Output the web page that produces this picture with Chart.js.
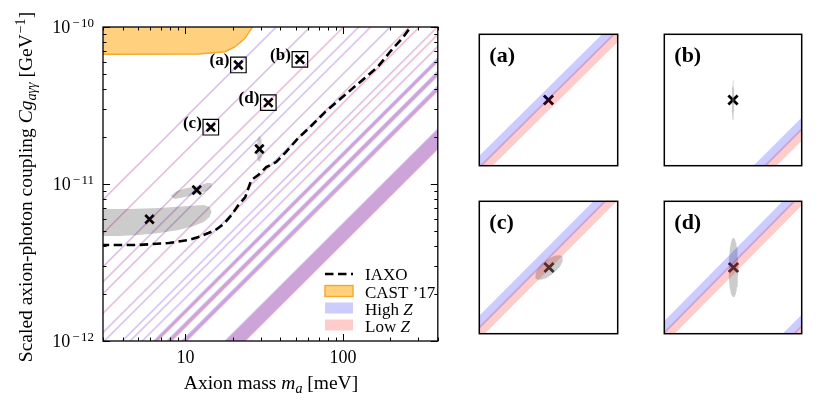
<!DOCTYPE html>
<html>
<head>
<meta charset="utf-8">
<script src="https://cdn.jsdelivr.net/npm/chart.js@4.4.1/dist/chart.umd.min.js"></script>
<style>
html,body{margin:0;padding:0;background:#fff;}
body{width:830px;height:415px;position:relative;overflow:hidden;}
canvas{position:absolute;}
</style>
</head>
<body>
<canvas id="main" width="450" height="415" style="left:0;top:0"></canvas>
<canvas id="pa" width="157" height="150" style="left:470px;top:25px"></canvas>
<canvas id="pb" width="156" height="150" style="left:655px;top:25px"></canvas>
<canvas id="pc" width="157" height="151" style="left:470px;top:192px"></canvas>
<canvas id="pd" width="156" height="151" style="left:655px;top:192px"></canvas>
<script>
// ---------------- data ----------------
const X_MIN = 3, X_MAX = 400, Y_MIN = 1e-12, Y_MAX = 1e-10;
const xMajorTicks = [10, 100];
const xMajorLabels = ['10', '100'];
const xMinorTicks = [3,4,5,6,7,8,9,20,30,40,50,60,70,80,90,200,300,400];
const yMajorTicks = [1e-12, 1e-11, 1e-10];
const yMajorExp = ['12', '11', '10'];
const yMinorTicks = [2e-12,3e-12,4e-12,5e-12,6e-12,7e-12,8e-12,9e-12,2e-11,3e-11,4e-11,5e-11,6e-11,7e-11,8e-11,9e-11];

// model lines  g = 1e-12 * m / m0   (m0 in meV)
const lineM0       = [0.378, 0.62, 1.01, 1.26, 1.50, 2.00, 2.65, 3.06, 3.98, 4.47, 5.33, 6.49, 7.91, 9.85, 20.7];
const lineWidthDex = [0.0095,0.0095,0.0095,0.0095,0.0095,0.0095,0.0095,0.0095,0.0095,0.0095,0.0095,0.031,0.036,0.037,0.1325];
const zSplitDex = 0.0075;   // offset between High Z and Low Z bands

// IAXO sensitivity
const iaxoMass = [2.9, 5.07, 7.85, 10.5, 12.1, 14.0, 15.5, 17.5, 19.6, 21.7, 24.0, 26.2, 29.0, 32.6, 37.7, 43.0, 52.0, 62.8, 77.0, 93.0, 124, 166, 201, 239, 269];
const iaxoG    = [4.09e-12,4.09e-12,4.21e-12,4.40e-12,4.60e-12,4.87e-12,5.09e-12,5.56e-12,6.34e-12,7.35e-12,8.26e-12,1.06e-11,1.14e-11,1.28e-11,1.38e-11,1.58e-11,1.96e-11,2.34e-11,2.87e-11,3.38e-11,4.33e-11,5.56e-11,7.03e-11,8.51e-11,1.0e-10];

// CAST '17 limit
const castMass = [2.5, 12.1, 17.9, 20.7, 23.9, 26.3, 28.2];
const castG    = [6.70e-11, 6.73e-11, 6.96e-11, 7.49e-11, 8.47e-11, 9.81e-11, 1.108e-10];

// benchmark points
const benchMass  = [21.7, 53.3, 14.5, 33.6, 29.5, 11.8, 5.92];
const benchG     = [5.73e-11, 6.22e-11, 2.30e-11, 3.30e-11, 1.67e-11, 9.16e-12, 5.96e-12];
const benchLabel = ['(a)', '(b)', '(c)', '(d)'];

// grey reconstruction regions
const blobBigMass  = [2.5, 4.38, 6.78, 10.5, 13.05, 14.24, 14.66, 14.24, 13.05, 11.28, 9.07, 6.78, 5.07, 3.79, 2.5];
const blobBigG     = [6.93e-12,6.93e-12,7.03e-12,7.24e-12,7.35e-12,7.14e-12,6.63e-12,6.16e-12,5.73e-12,5.40e-12,5.09e-12,4.87e-12,4.73e-12,4.66e-12,4.66e-12];
const blobSmallMass = [8.07, 8.81, 10.19, 12.13, 13.63, 14.66, 14.66, 13.63, 11.79, 9.90, 8.56];
const blobSmallG    = [8.39e-12,9.02e-12,9.43e-12,9.71e-12,1.015e-11,1.015e-11,9.57e-12,9.02e-12,8.64e-12,8.26e-12,8.02e-12];
const ellMainSemiX = 0.017, ellMainSemiY = 0.08;   // ellipse around point 5 (dex)

// zoom panels
const panelHalfX = 0.05, panelHalfY = 0.048;        // half-width of windows (dex)
const panelEllA = [0, 0.0009, 0.0124, 0.0035];
const panelEllB = [0, 0.0145, 0.0052, 0.0215];
const panelEllAng = [0, 0, 40, 0];

// ---------------- helpers ----------------
const SERIF = '"Liberation Serif", "DejaVu Serif", serif';
const BLUE = 'rgba(0,0,255,0.2)', RED = 'rgba(255,0,0,0.2)', GREY = 'rgba(128,128,128,0.4)';
const NONE = 'rgba(0,0,0,0)';
const pts = (xs, ys) => xs.map((v, i) => ({x: v, y: ys[i]}));
function bandPoly(m0lo, m0hi) {
  const a = 1, b = 3000;
  return [{x:a,y:1e-12*a/m0lo},{x:b,y:1e-12*b/m0lo},{x:b,y:1e-12*b/m0hi},{x:a,y:1e-12*a/m0hi}];
}
function ellipsePoly(mc, gc, A, B, angDeg, n) {
  const th = angDeg * Math.PI / 180, out = [];
  for (let k = 0; k <= n; k++) {
    const t = 2 * Math.PI * k / n;
    const lx = A*Math.cos(t)*Math.cos(th) - B*Math.sin(t)*Math.sin(th);
    const ly = A*Math.cos(t)*Math.sin(th) + B*Math.sin(t)*Math.cos(th);
    out.push({x: mc*Math.pow(10, lx), y: gc*Math.pow(10, ly)});
  }
  return out;
}
function bandDatasets(order) {
  const ds = [];
  lineM0.forEach((m0, i) => {
    const w = lineWidthDex[i];
    [[-1, BLUE, 'High Z'], [1, RED, 'Low Z']].forEach(([s, col, lab]) => {
      const c = Math.log10(m0) + s * zSplitDex / 2;
      ds.push({label: lab, data: bandPoly(Math.pow(10, c - w/2), Math.pow(10, c + w/2)),
        backgroundColor: col, borderColor: NONE, borderWidth: 0, pointRadius: 0, fill: 'shape', order: order});
    });
  });
  return ds;
}
function fontOf(s, size) {
  const sz = (s.sub || s.sup) ? size * 0.72 : size;
  return (s.it ? 'italic ' : '') + (s.b ? 'bold ' : '') + sz + 'px ' + SERIF;
}
function drawRich(ctx, segs, x, y, size, align) {
  const ws = segs.map(s => { ctx.font = fontOf(s, size); return ctx.measureText(s.t).width + (s.pad || 0); });
  const tot = ws.reduce((p, q) => p + q, 0);
  let cx = align === 'center' ? x - tot/2 : align === 'right' ? x - tot : x;
  ctx.textAlign = 'left';
  segs.forEach((s, i) => {
    ctx.font = fontOf(s, size);
    const dy = s.sub ? size*0.22 : s.sup ? -size*0.36 : 0;
    ctx.fillText(s.t, cx + (s.pad || 0), y + dy);
    cx += ws[i];
  });
}

// ---------------- main chart ----------------
const mainSets = [];
mainSets.push({label:'IAXO', data: pts(iaxoMass, iaxoG), borderColor:'#000', borderWidth:2.6,
  borderDash:[8.5,4.5], pointRadius:0, fill:false, order:0});
mainSets.push({label:"CAST '17", data: pts(castMass, castG), borderColor:'rgba(246,168,40,1)', borderWidth:1.4,
  backgroundColor:'rgba(255,170,20,0.55)', fill:'end', pointRadius:0, order:1});
mainSets.push(...bandDatasets(2));
mainSets.push({label:'boxes', data: pts(benchMass.slice(0,4), benchG.slice(0,4)), showLine:false,
  pointStyle:'rect', pointRadius:11, pointBackgroundColor:NONE, pointBorderColor:'#000', pointBorderWidth:1.2, order:3});
mainSets.push({label:'points', data: pts(benchMass, benchG), showLine:false,
  pointStyle:'crossRot', pointRadius:6, pointBorderColor:'#000', pointBackgroundColor:'#000', pointBorderWidth:2.6, order:4});
mainSets.push({label:'rec1', data: pts(blobBigMass, blobBigG), backgroundColor:GREY, borderColor:NONE, borderWidth:0, pointRadius:0, fill:'shape', order:5});
mainSets.push({label:'rec2', data: pts(blobSmallMass, blobSmallG), backgroundColor:GREY, borderColor:NONE, borderWidth:0, pointRadius:0, fill:'shape', order:5});
mainSets.push({label:'rec3', data: ellipsePoly(benchMass[4], benchG[4], ellMainSemiX, ellMainSemiY, 0, 60), backgroundColor:GREY, borderColor:NONE, borderWidth:0, pointRadius:0, fill:'shape', order:5});

const mainDecor = {
  id: 'mainDecor',
  afterDraw(chart) {
    const {ctx, chartArea: a, scales: {x, y}} = chart;
    ctx.save();
    ctx.fillStyle = '#000'; ctx.strokeStyle = '#000';
    // ticks (inward, all sides)
    ctx.lineWidth = 1;
    const vt = (v, len) => { const p = Math.round(x.getPixelForValue(v)) + 0.5;
      ctx.beginPath(); ctx.moveTo(p, a.bottom); ctx.lineTo(p, a.bottom - len);
      ctx.moveTo(p, a.top); ctx.lineTo(p, a.top + len); ctx.stroke(); };
    const ht = (v, len) => { const p = Math.round(y.getPixelForValue(v)) + 0.5;
      ctx.beginPath(); ctx.moveTo(a.left, p); ctx.lineTo(a.left + len, p);
      ctx.moveTo(a.right, p); ctx.lineTo(a.right - len, p); ctx.stroke(); };
    xMajorTicks.forEach(v => vt(v, 7)); xMinorTicks.forEach(v => vt(v, 3.5));
    yMajorTicks.forEach(v => ht(v, 7)); yMinorTicks.forEach(v => ht(v, 3.5));
    // frame
    ctx.lineWidth = 1.3;
    ctx.strokeRect(a.left, a.top, a.right - a.left, a.bottom - a.top);
    // x tick labels
    ctx.textBaseline = 'alphabetic';
    ctx.font = '18px ' + SERIF; ctx.textAlign = 'center';
    xMajorTicks.forEach((v, i) => ctx.fillText(xMajorLabels[i], x.getPixelForValue(v), a.bottom + 22));
    // y tick labels
    yMajorTicks.forEach((v, i) => {
      const p = y.getPixelForValue(v);
      drawRich(ctx, [{t:'10'}, {t:'\u2212', sup:1, pad:2}, {t: yMajorExp[i], sup:1, pad:1.5}], a.left - 9, p + 6, 18, 'right');
    });
    // axis titles
    drawRich(ctx, [{t:'Axion mass '}, {t:'m', it:1}, {t:'a', it:1, sub:1}, {t:' [meV]'}], 271, 389, 19.5, 'center');
    ctx.save();
    ctx.translate(32, (a.top + a.bottom) / 2 + 3);
    ctx.rotate(-Math.PI / 2);
    drawRich(ctx, [{t:'Scaled axion-photon coupling '}, {t:'Cg', it:1}, {t:'a\u03b3\u03b3', it:1, sub:1}, {t:' [GeV'}, {t:'\u22121', sup:1, pad:1}, {t:']'}], 0, 0, 19.5, 'center');
    ctx.restore();
    // benchmark labels
    ctx.font = 'bold 17px ' + SERIF; ctx.textAlign = 'right'; ctx.textBaseline = 'middle';
    benchLabel.forEach((t, i) => {
      ctx.fillText(t, x.getPixelForValue(benchMass[i]) - 9, y.getPixelForValue(benchG[i]) - 4);
    });
    // legend
    const lx = 325, lw = 28, tx = 365;
    const rows = [280, 297.5, 314.5, 331.5];
    ctx.textBaseline = 'alphabetic';
    ctx.lineWidth = 2.6; ctx.setLineDash([8.5, 4.5]);
    ctx.beginPath(); ctx.moveTo(lx, rows[0] - 6); ctx.lineTo(lx + lw, rows[0] - 6); ctx.stroke();
    ctx.setLineDash([]);
    ctx.fillStyle = 'rgba(255,170,20,0.55)'; ctx.fillRect(lx, rows[1] - 12, lw, 11);
    ctx.strokeStyle = 'rgba(246,168,40,1)'; ctx.lineWidth = 1.4; ctx.strokeRect(lx, rows[1] - 12, lw, 11);
    ctx.fillStyle = BLUE; ctx.fillRect(lx, rows[2] - 12, lw, 11);
    ctx.fillStyle = RED; ctx.fillRect(lx, rows[3] - 12, lw, 11);
    ctx.fillStyle = '#000';
    drawRich(ctx, [{t:'IAXO'}], tx, rows[0], 17, 'left');
    drawRich(ctx, [{t:"CAST \u201917"}], tx, rows[1], 17, 'left');
    drawRich(ctx, [{t:'High '}, {t:'Z', it:1}], tx, rows[2], 17, 'left');
    drawRich(ctx, [{t:'Low '}, {t:'Z', it:1}], tx, rows[3], 17, 'left');
    ctx.restore();
  }
};

new Chart(document.getElementById('main'), {
  type: 'line',
  data: {datasets: mainSets},
  options: {
    responsive: false, animation: false, devicePixelRatio: 1,
    layout: {padding: {left: 103, top: 27, right: 10, bottom: 74}},
    scales: {
      x: {type: 'logarithmic', min: X_MIN, max: X_MAX, display: false},
      y: {type: 'logarithmic', min: Y_MIN, max: Y_MAX, display: false}
    },
    elements: {line: {tension: 0}},
    plugins: {legend: {display: false}, tooltip: {enabled: false}}
  },
  plugins: [mainDecor]
});

// ---------------- zoom panels ----------------
['pa', 'pb', 'pc', 'pd'].forEach((id, k) => {
  const mc = benchMass[k], gc = benchG[k];
  const sets = bandDatasets(0);
  if (panelEllA[k] > 0) {
    sets.push({label:'rec', data: ellipsePoly(mc, gc, panelEllA[k], panelEllB[k], panelEllAng[k], 80),
      backgroundColor: GREY, borderColor: NONE, borderWidth: 0, pointRadius: 0, fill: 'shape', order: 1});
  }
  sets.push({label:'point', data: [{x: mc, y: gc}], showLine: false, pointStyle: 'crossRot', pointRadius: 6.5,
    pointBorderColor: '#000', pointBorderWidth: 2.8, order: 2});
  const decor = {
    id: 'panelDecor' + k,
    afterDraw(chart) {
      const {ctx, chartArea: a} = chart;
      ctx.save();
      ctx.strokeStyle = '#000'; ctx.lineWidth = 1.5;
      ctx.strokeRect(a.left, a.top, a.right - a.left, a.bottom - a.top);
      ctx.fillStyle = '#000'; ctx.textBaseline = 'middle';
      ctx.font = 'bold 22px ' + SERIF; ctx.textAlign = 'left';
      ctx.fillText(benchLabel[k], a.left + 10, a.top + 22);
      ctx.restore();
    }
  };
  new Chart(document.getElementById(id), {
    type: 'line',
    data: {datasets: sets},
    options: {
      responsive: false, animation: false, devicePixelRatio: 1,
      layout: {padding: 2},
      scales: {
        x: {type: 'logarithmic', min: mc * Math.pow(10, -panelHalfX), max: mc * Math.pow(10, panelHalfX), display: false},
        y: {type: 'logarithmic', min: gc * Math.pow(10, -panelHalfY), max: gc * Math.pow(10, panelHalfY), display: false}
      },
      elements: {line: {tension: 0}},
      plugins: {legend: {display: false}, tooltip: {enabled: false}}
    },
    plugins: [decor]
  });
});
</script>
</body>
</html>
